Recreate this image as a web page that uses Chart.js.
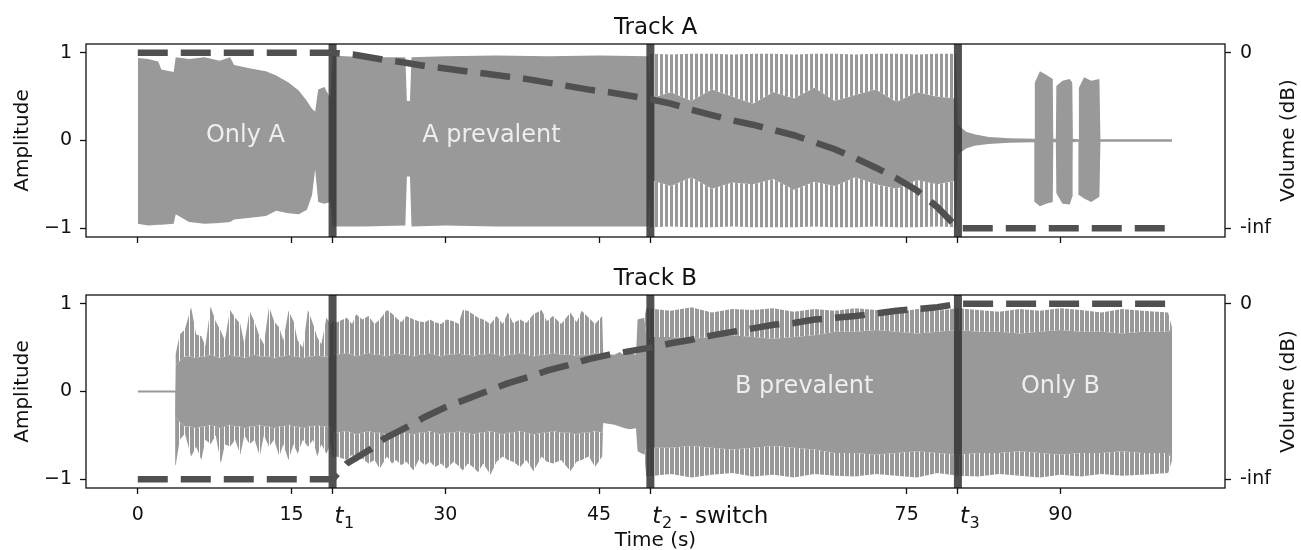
<!DOCTYPE html>
<html>
<head>
<meta charset="utf-8">
<script src="https://cdn.jsdelivr.net/npm/chart.js@4.4.1/dist/chart.umd.min.js"></script>
<style>
  html, body { margin: 0; padding: 0; background: #fff; }
  #wrap { position: relative; width: 1301px; height: 550px; }
  canvas { position: absolute; left: 0; }
  #chartA { top: 0; }
  #chartB { top: 260px; }
</style>
</head>
<body>
<div id="wrap">
  <canvas id="chartA" width="1301" height="260"></canvas>
  <canvas id="chartB" width="1301" height="290"></canvas>
</div>
<script>
const _ = null; // no spike zone: core envelope equals peak envelope

// axes
const timeTicks = [0, 15, 19, 30, 45, 50, 75, 80, 90];
const timeTickLabels = ["0", "15", "t1", "30", "45", "t2 - switch", "75", "t3", "90"];
const ampTicks = [-1, 0, 1];
const ampTickLabels = ["\u22121", "0", "1"];
const volTicks = [-1, 1];
const volTickLabels = ["-inf", "0"];
const switchTimes = [19, 50, 80];

// Track A waveform envelope (seconds, amplitude)
const aTime = [0, 1, 2, 2.3, 3.5, 3.7, 5, 6.5, 8, 9,
  9.4, 11, 12.5, 13.5, 14.7, 15.7, 16.5, 17.0, 17.3, 17.6,
  18.2, 18.8, 19.0, 22, 26.1, 26.25, 26.55, 26.7, 30, 35,
  40, 45, 49.8,
  50.0, 52, 54, 56, 58, 60, 62, 64, 66, 68,
  70, 72, 74, 76, 78, 79.8,
  80.0, 80.8, 81.6, 83, 85, 87.45, 87.5, 88.0, 88.6, 89.25,
  89.3, 89.55, 89.6, 90.2, 90.9, 91.15, 91.2, 91.75, 91.8, 92.3,
  93.0, 93.8, 93.9, 100.9];
const aPeakHi = [0.94, 0.93, 0.90, 0.81, 0.78, 0.95, 0.93, 0.95, 0.91, 0.95,
  0.86, 0.82, 0.79, 0.74, 0.66, 0.57, 0.45, 0.36, 0.33, 0.58,
  0.61, 0.48, 0.97, 0.95, 0.95, 0.45, 0.45, 0.95, 0.96, 0.97,
  0.96, 0.97, 0.96,
  0.99, 0.98, 0.99, 0.99, 0.98, 0.99, 0.99, 0.98, 0.99, 0.99,
  0.98, 0.99, 0.99, 0.98, 0.99, 0.99,
  0.18, 0.10, 0.07, 0.04, 0.025, 0.02, 0.66, 0.79, 0.75, 0.70,
  0.02, 0.02, 0.62, 0.68, 0.70, 0.66, 0.02, 0.015, 0.60, 0.72,
  0.68, 0.70, 0.015, 0.015];
const aCoreHi = [_, _, _, _, _, _, _, _, _, _,
  _, _, _, _, _, _, _, _, _, _,
  _, _, _, _, _, _, _, _, _, _,
  _, _, _,
  0.48, 0.55, 0.45, 0.58, 0.50, 0.42, 0.55, 0.48, 0.60, 0.45,
  0.52, 0.58, 0.44, 0.55, 0.50, 0.48,
  _, _, _, _, _, _, _, _, _, _,
  _, _, _, _, _, _, _, _, _, _,
  _, _, _, _];
const aCoreLo = [_, _, _, _, _, _, _, _, _, _,
  _, _, _, _, _, _, _, _, _, _,
  _, _, _, _, _, _, _, _, _, _,
  _, _, _,
  -0.45, -0.52, -0.42, -0.55, -0.48, -0.50, -0.44, -0.56, -0.47, -0.52,
  -0.42, -0.50, -0.55, -0.45, -0.50, -0.46,
  _, _, _, _, _, _, _, _, _, _,
  _, _, _, _, _, _, _, _, _, _,
  _, _, _, _];
const aPeakLo = [-0.95, -0.97, -0.96, -0.96, -0.95, -0.84, -0.93, -0.95, -0.94, -0.93,
  -0.90, -0.88, -0.86, -0.80, -0.83, -0.84, -0.79, -0.62, -0.33, -0.70,
  -0.72, -0.70, -0.98, -0.98, -0.97, -0.41, -0.41, -0.98, -0.97, -0.98,
  -0.98, -0.98, -0.98,
  -0.99, -0.98, -0.99, -0.99, -0.98, -0.99, -0.99, -0.99, -0.98, -0.99,
  -0.99, -0.98, -0.99, -0.99, -0.98, -0.99,
  -0.16, -0.09, -0.06, -0.04, -0.025, -0.02, -0.70, -0.75, -0.72, -0.70,
  -0.02, -0.02, -0.60, -0.72, -0.73, -0.64, -0.02, -0.015, -0.62, -0.66,
  -0.70, -0.64, -0.015, -0.015];

// Track B waveform envelope
const bTime = [0, 3.65,
  3.7, 4.1, 4.6, 5.2, 5.7, 6.2, 6.6, 7.1, 7.6, 8.1,
  8.5, 9.0, 9.5, 10.0, 10.4, 10.9, 11.4, 11.9, 12.3, 12.8,
  13.3, 13.8, 14.2, 14.7, 15.2, 15.6, 16.1, 16.6, 17.1, 17.5,
  17.9, 18.4, 18.8,
  19.0, 19.4, 20.4, 20.9, 21.3, 21.9, 22.5, 23.1, 23.6, 24.3,
  24.8, 25.2, 25.7, 26.2, 26.9, 27.4, 28.0, 28.5, 29.0, 29.6,
  30.1, 30.8, 31.3, 31.7, 32.2, 32.7, 33.2,
  33.7, 34.4, 35.0, 35.6, 36.1, 36.6, 37.3, 37.9, 38.6, 39.4,
  39.9, 40.5, 41.3, 42.2, 42.8, 43.3, 44.0, 44.6, 45.3,
  45.4, 46.5, 47.0, 47.5, 48.0, 48.6, 48.75, 49.4,
  49.6, 52, 54, 56, 58, 60, 62, 64, 66, 68,
  70, 72, 74, 76, 78, 80, 82, 84, 86, 88,
  90, 92, 94, 96, 98, 100.5, 100.9];
const bPeakHi = [0.012, 0.012,
  0.43, 0.65, 0.71, 0.96, 0.65, 0.63, 0.52, 0.97, 0.80, 0.69,
  0.58, 0.93, 0.84, 0.77, 0.54, 0.92, 0.79, 0.62, 0.54, 0.97,
  0.80, 0.73, 0.58, 0.92, 0.80, 0.58, 0.50, 0.93, 0.77, 0.62,
  0.54, 0.84, 0.77,
  0.80, 0.79, 0.84, 0.77, 0.88, 0.82, 0.86, 0.77, 0.82, 0.93,
  0.89, 0.84, 0.79, 0.86, 0.82, 0.80, 0.79, 0.82, 0.79, 0.77,
  0.82, 0.80, 0.77, 0.93, 0.92, 0.88, 0.84,
  0.82, 0.77, 0.86, 0.77, 0.90, 0.78, 0.82, 0.78, 0.88, 0.93,
  0.80, 0.86, 0.77, 0.90, 0.79, 0.92, 0.84, 0.77, 0.86,
  0.43, 0.42, 0.45, 0.41, 0.44, 0.42, 0.82, 0.84,
  0.95, 0.92, 0.96, 0.90, 0.94, 0.93, 0.95, 0.91, 0.94, 0.92,
  0.95, 0.93, 0.90, 0.94, 0.92, 0.95, 0.93, 0.91, 0.94, 0.92,
  0.95, 0.93, 0.90, 0.94, 0.92, 0.90, 0.72];
const bCoreHi = [_, _,
  0.30, 0.35, 0.40, 0.40, 0.38, 0.40, 0.40, 0.42, 0.40, 0.38,
  0.40, 0.42, 0.40, 0.40, 0.38, 0.40, 0.42, 0.40, 0.40, 0.40,
  0.38, 0.40, 0.40, 0.42, 0.40, 0.40, 0.38, 0.40, 0.40, 0.42,
  0.40, 0.40, 0.40,
  0.42, 0.42, 0.44, 0.42, 0.40, 0.42, 0.44, 0.42, 0.42, 0.40,
  0.42, 0.44, 0.42, 0.42, 0.40, 0.42, 0.42, 0.44, 0.42, 0.40,
  0.42, 0.42, 0.44, 0.42, 0.42, 0.40, 0.42,
  0.42, 0.44, 0.42, 0.40, 0.42, 0.42, 0.44, 0.42, 0.40, 0.42,
  0.42, 0.44, 0.42, 0.42, 0.40, 0.42, 0.42, 0.44, 0.42,
  _, _, _, _, _, _, _, _,
  0.62, 0.62, 0.60, 0.62, 0.64, 0.62, 0.60, 0.62, 0.64, 0.68,
  0.68, 0.70, 0.68, 0.66, 0.68, 0.70, 0.68, 0.68, 0.66, 0.68,
  0.70, 0.68, 0.68, 0.66, 0.68, 0.68, _];
const bCoreLo = [_, _,
  -0.30, -0.35, -0.40, -0.40, -0.42, -0.40, -0.40, -0.38, -0.40, -0.42,
  -0.40, -0.38, -0.40, -0.40, -0.42, -0.40, -0.40, -0.38, -0.40, -0.40,
  -0.42, -0.40, -0.40, -0.38, -0.40, -0.40, -0.42, -0.40, -0.40, -0.38,
  -0.40, -0.40, -0.40,
  -0.47, -0.47, -0.45, -0.47, -0.49, -0.47, -0.45, -0.47, -0.47, -0.49,
  -0.47, -0.45, -0.47, -0.47, -0.49, -0.47, -0.47, -0.45, -0.47, -0.49,
  -0.47, -0.47, -0.45, -0.47, -0.47, -0.49, -0.47,
  -0.47, -0.45, -0.47, -0.49, -0.47, -0.47, -0.45, -0.47, -0.49, -0.47,
  -0.47, -0.45, -0.47, -0.47, -0.49, -0.47, -0.47, -0.45, -0.47,
  _, _, _, _, _, _, _, _,
  -0.64, -0.64, -0.62, -0.64, -0.66, -0.64, -0.62, -0.64, -0.66, -0.70,
  -0.70, -0.72, -0.70, -0.68, -0.70, -0.72, -0.70, -0.70, -0.68, -0.70,
  -0.72, -0.70, -0.70, -0.68, -0.70, -0.70, _];
const bPeakLo = [-0.012, -0.012,
  -0.84, -0.55, -0.48, -0.74, -0.63, -0.78, -0.55, -0.60, -0.50, -0.82,
  -0.60, -0.63, -0.55, -0.72, -0.50, -0.60, -0.55, -0.74, -0.50, -0.63,
  -0.55, -0.74, -0.60, -0.78, -0.60, -0.71, -0.55, -0.63, -0.55, -0.74,
  -0.60, -0.71, -0.60,
  -0.75, -0.74, -0.78, -0.72, -0.80, -0.76, -0.82, -0.78, -0.88, -0.74,
  -0.82, -0.78, -0.84, -0.80, -0.90, -0.78, -0.84, -0.80, -0.86, -0.82,
  -0.88, -0.80, -0.85, -0.90, -0.82, -0.86, -0.92,
  -0.82, -0.95, -0.80, -0.74, -0.78, -0.80, -0.86, -0.78, -0.91, -0.74,
  -0.80, -0.82, -0.78, -0.91, -0.80, -0.78, -0.74, -0.86, -0.74,
  -0.36, -0.38, -0.40, -0.42, -0.43, -0.42, -0.68, -0.72,
  -0.97, -0.94, -0.98, -0.95, -0.93, -0.97, -0.95, -0.98, -0.94, -0.96,
  -0.97, -0.94, -0.96, -0.98, -0.93, -0.96, -0.97, -0.94, -0.96, -0.98,
  -0.95, -0.97, -0.94, -0.96, -0.95, -0.93, -0.78];

// volume curves (right axis: 1 = 0 dB, -1 = -inf)
const volTimeA = [0, 19, 21, 24, 26, 28, 30, 32, 34, 36,
  38, 40, 42, 44, 46, 48, 50, 52, 54, 56,
  58, 60, 62, 64, 66, 68, 70, 72, 74, 76,
  78, 80, 100.9];
const volA = [1, 1, 0.98, 0.92, 0.89, 0.85, 0.82, 0.79, 0.76, 0.73,
  0.70, 0.66, 0.62, 0.58, 0.55, 0.51, 0.47, 0.42, 0.35, 0.29,
  0.23, 0.18, 0.12, 0.06, -0.02, -0.10, -0.20, -0.31, -0.43, -0.57,
  -0.76, -1, -1];
const volTimeB = [0, 19, 20.4, 22.8, 24, 26.5, 28, 30, 32, 34,
  36, 38, 40, 42, 44, 46, 48, 50, 52, 54,
  56, 58, 60, 62, 64, 66, 68, 70, 72, 74,
  76, 78, 80, 100.9];
const volB = [-1, -1, -0.82, -0.65, -0.54, -0.39, -0.29, -0.18, -0.09, 0,
  0.09, 0.16, 0.24, 0.30, 0.37, 0.42, 0.46, 0.50, 0.55, 0.59,
  0.64, 0.68, 0.72, 0.76, 0.78, 0.82, 0.84, 0.86, 0.89, 0.92,
  0.94, 0.96, 1, 1];

const regionNamesA = ["Only A", "A prevalent"];
const regionTimesA = [10.5, 34.5];
const regionNamesB = ["B prevalent", "Only B"];
const regionTimesB = [65, 90];

const FONT = '"DejaVu Sans", sans-serif';
const WAVE = "#999999";
const MARK = "rgba(50, 50, 50, 0.85)";
const DASH = "#505050";
const INK = "#111111";
const X_MIN = -5.05, X_MAX = 106.05, Y_MIN = -1.1, Y_MAX = 1.1;

function stripes(canvasId, on, off) {
  const c = document.createElement("canvas");
  c.width = on + off;
  c.height = 4;
  const g = c.getContext("2d");
  g.fillStyle = WAVE;
  g.fillRect(0, 0, on, 4);
  return document.getElementById(canvasId).getContext("2d").createPattern(c, "repeat");
}

function waveDatasets(t, hi, coreHi, coreLo, lo, pattern) {
  const base = { borderWidth: 0, borderColor: "transparent", pointRadius: 0, order: 3 };
  return [
    { ...base, data: t.map((x, i) => ({ x, y: hi[i] })), fill: "+1", backgroundColor: pattern },
    { ...base, data: t.map((x, i) => ({ x, y: coreHi[i] ?? hi[i] })), fill: "+1", backgroundColor: WAVE },
    { ...base, data: t.map((x, i) => ({ x, y: coreLo[i] ?? lo[i] })), fill: "+1", backgroundColor: pattern },
    { ...base, data: t.map((x, i) => ({ x, y: lo[i] })), fill: false },
  ];
}

function markerDatasets() {
  return switchTimes.map((s) => ({
    data: [{ x: s, y: Y_MIN }, { x: s, y: Y_MAX }],
    borderColor: MARK,
    borderWidth: 8,
    pointRadius: 0,
    fill: false,
    order: 2,
  }));
}

function volumeDataset(t, v) {
  return {
    data: t.map((x, i) => ({ x, y: v[i] })),
    borderColor: DASH,
    borderWidth: 6.5,
    borderDash: [30, 13],
    borderCapStyle: "butt",
    pointRadius: 0,
    fill: false,
    order: 1,
  };
}

const overlay = {
  id: "overlay",
  afterDatasetsDraw(chart, args, o) {
    const { ctx, chartArea: a } = chart;
    const xs = chart.scales.x;
    const ys = chart.scales.y;
    ctx.save();

    ctx.strokeStyle = INK;
    ctx.lineWidth = 1.3;
    ctx.strokeRect(a.left, a.top, a.right - a.left, a.bottom - a.top);

    ctx.textAlign = "center";
    ctx.textBaseline = "alphabetic";
    ctx.fillStyle = "#eeeeee";
    ctx.font = "24px " + FONT;
    o.names.forEach((name, i) => {
      ctx.fillText(name, xs.getPixelForValue(o.times[i]), ys.getPixelForValue(0) + 1.5);
    });

    ctx.fillStyle = INK;
    ctx.font = "23px " + FONT;
    ctx.fillText(o.title, (a.left + a.right) / 2, a.top - 10.5);

    ctx.font = "20px " + FONT;
    const mid = (a.top + a.bottom) / 2;
    [["Amplitude", a.left - 58], ["Volume (dB)", a.right + 69]].forEach(([txt, bx]) => {
      ctx.save();
      ctx.translate(bx, mid);
      ctx.rotate(-Math.PI / 2);
      ctx.fillText(txt, 0, 0);
      ctx.restore();
    });

    if (o.timeLabels) {
      const base = a.bottom + 32;
      timeTicks.forEach((v, i) => {
        const px = xs.getPixelForValue(v);
        const lab = timeTickLabels[i];
        const m = lab.match(/^t(\d)(.*)$/);
        if (!m) {
          ctx.textAlign = "center";
          ctx.font = "19px " + FONT;
          ctx.fillText(lab, px, base);
          return;
        }
        ctx.textAlign = "left";
        let cx = px + 2;
        ctx.font = "italic 23px " + FONT;
        ctx.fillText("t", cx, base + 3);
        cx += ctx.measureText("t").width + 0.5;
        ctx.font = "16px " + FONT;
        ctx.fillText(m[1], cx, base + 8);
        cx += ctx.measureText(m[1]).width;
        if (m[2]) {
          ctx.font = "23px " + FONT;
          ctx.fillText(m[2], cx, base + 3);
        }
      });
      ctx.textAlign = "center";
      ctx.font = "20px " + FONT;
      ctx.fillText("Time (s)", (a.left + a.right) / 2, a.bottom + 58);
    }
    ctx.restore();
  },
};

function makeOptions(padTop, xHeight, overlayOpts) {
  const tickGrid = { drawOnChartArea: false, drawTicks: true, tickLength: 6, tickWidth: 1.3, tickColor: INK };
  return {
    responsive: false,
    animation: false,
    layout: { padding: { top: padTop, left: 0, right: 0, bottom: 0 } },
    plugins: {
      legend: { display: false },
      tooltip: { enabled: false },
      overlay: overlayOpts,
    },
    scales: {
      x: {
        type: "linear",
        min: X_MIN,
        max: X_MAX,
        afterBuildTicks: (s) => { s.ticks = timeTicks.map((value) => ({ value })); },
        afterFit: (s) => { s.height = xHeight; },
        ticks: { display: false },
        grid: tickGrid,
        border: { display: false },
      },
      y: {
        position: "left",
        min: Y_MIN,
        max: Y_MAX,
        afterBuildTicks: (s) => { s.ticks = ampTicks.map((value) => ({ value })); },
        afterFit: (s) => { s.width = 86; },
        ticks: {
          callback: (v) => ampTickLabels[ampTicks.indexOf(v)],
          font: { family: FONT, size: 19 },
          color: INK,
          padding: 8,
        },
        grid: tickGrid,
        border: { display: false },
      },
      y2: {
        position: "right",
        min: Y_MIN,
        max: Y_MAX,
        afterBuildTicks: (s) => { s.ticks = volTicks.map((value) => ({ value })); },
        afterFit: (s) => { s.width = 76; },
        ticks: {
          callback: (v) => volTickLabels[volTicks.indexOf(v)],
          font: { family: FONT, size: 19 },
          color: INK,
          padding: 9,
        },
        grid: tickGrid,
        border: { display: false },
      },
    },
  };
}

new Chart(document.getElementById("chartA"), {
  type: "line",
  data: {
    datasets: [
      ...waveDatasets(aTime, aPeakHi, aCoreHi, aCoreLo, aPeakLo, stripes("chartA", 3, 2)),
      ...markerDatasets(),
      volumeDataset(volTimeA, volA),
    ],
  },
  options: makeOptions(44, 23, { title: "Track A", names: regionNamesA, times: regionTimesA, timeLabels: false }),
  plugins: [overlay],
});

new Chart(document.getElementById("chartB"), {
  type: "line",
  data: {
    datasets: [
      ...waveDatasets(bTime, bPeakHi, bCoreHi, bCoreLo, bPeakLo, stripes("chartB", 4, 1)),
      ...markerDatasets(),
      volumeDataset(volTimeB, volB),
    ],
  },
  options: makeOptions(35, 62, { title: "Track B", names: regionNamesB, times: regionTimesB, timeLabels: true }),
  plugins: [overlay],
});
</script>
</body>
</html>
